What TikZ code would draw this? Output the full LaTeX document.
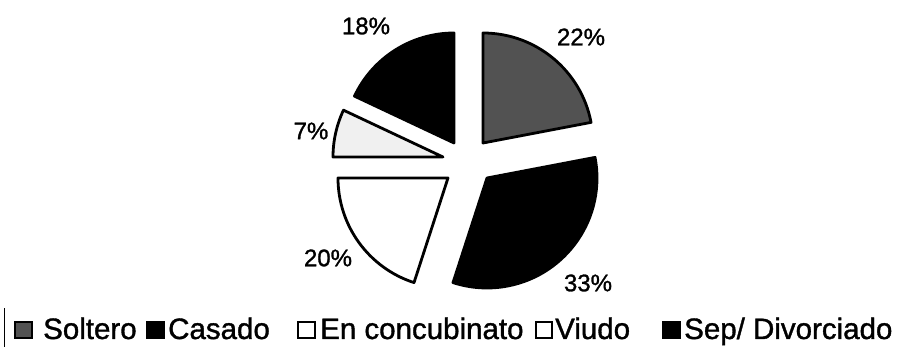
\documentclass[tikz,border=0pt]{standalone}
\usepackage{fontspec}
\setmainfont{Liberation Sans}[FakeBold=1.2]
\begin{document}
\begin{tikzpicture}[x=1pt,y=1pt,
  slice/.style={draw=black, line width=2.8pt, line join=round},
  pct/.style={font=\fontsize{24}{27}\selectfont, inner sep=0pt},
  legtext/.style={font=\fontsize{29.5}{32}\selectfont, anchor=base west, inner sep=0pt},
  legbox/.style={draw=black, line width=1.8pt}]
\useasboundingbox[fill=white] (0,0) rectangle (900,347);
\def\R{110}
% Soltero 22%
\draw[slice, fill=black!68] (483,204) -- ++(90:\R) arc[start angle=90, end angle=10.8, radius=\R] -- cycle;
% Casado 33%
\draw[slice, fill=black] (487,169) -- ++(10.8:\R) arc[start angle=10.8, end angle=-108, radius=\R] -- cycle;
% En concubinato 20%
\draw[slice, fill=white] (448,169) -- ++(-108:\R) arc[start angle=-108, end angle=-180, radius=\R] -- cycle;
% Viudo 7%
\draw[slice, fill=black!6] (443,190) -- ++(180:\R) arc[start angle=180, end angle=154.8, radius=\R] -- cycle;
% Sep/ Divorciado 18%
\draw[slice, fill=black] (454,204) -- ++(154.8:\R) arc[start angle=154.8, end angle=90, radius=\R] -- cycle;
% percentage labels
\node[pct] (p18) at (366,321) {18\%};
\node[pct] (p22) at (581,310) {22\%};
\node[pct] (p7)  at (311,216) {7\%};
\node[pct] (p20) at (328,89)  {20\%};
\node[pct] (p33) at (588,64)  {33\%};
% legend
\draw[line width=1pt] (4,0) -- (4,39);
\draw[legbox, fill=black!68] (15,9) rectangle (32,25);
\node[legtext] (lsol) at (43,8) {Soltero};
\draw[legbox, fill=black] (147,9) rectangle (164,25);
\node[legtext] (lcas) at (168,8) {Casado};
\draw[legbox, fill=white] (298,9) rectangle (315,25);
\node[legtext] (lcon) at (320,8) {En concubinato};
\draw[legbox, fill=white] (536,9) rectangle (552,25);
\node[legtext] (lviu) at (555,8) {Viudo};
\draw[legbox, fill=black] (663,9) rectangle (680,25);
\node[legtext] (lsep) at (684,8) {Sep/ Divorciado};
\end{tikzpicture}
\end{document}
